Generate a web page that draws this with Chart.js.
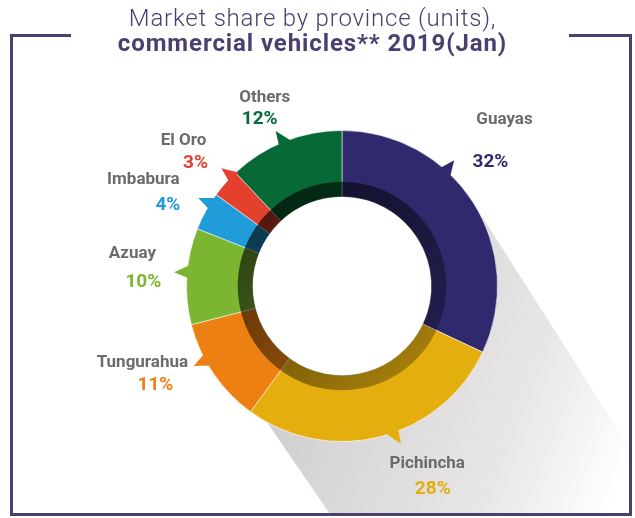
<!DOCTYPE html>
<html>
<head>
<meta charset="utf-8">
<script src="https://cdn.jsdelivr.net/npm/chart.js@4.4.0/dist/chart.umd.min.js"></script>
<style>
  html, body { margin: 0; padding: 0; background: #fff; }
  #wrap { position: relative; width: 635px; height: 518px; overflow: hidden; }
  canvas { position: absolute; left: 0; top: 0; }
  #frame { position: absolute; left: 10px; top: 34px; width: 616px; height: 479px;
           border: 3px solid #4b3f70; border-top: none; }
  .tick { position: absolute; top: 34px; height: 3px; background: #4b3f70; }
  .ttl { position: absolute; left: -5px; width: 635px; text-align: center; color: #4a3f6f;
         font-family: Roboto, sans-serif; font-size: 24px; line-height: 24px; white-space: nowrap; }
  #t1 { top: 6px; font-weight: 300; letter-spacing: 0.8px; }
  #t2 { top: 31px; font-weight: 700; letter-spacing: 0.9px; }
</style>
</head>
<body>
<div id="wrap">
  <canvas id="chart" width="635" height="518"></canvas>
  <div id="frame"></div>
  <div class="tick" style="left:10px;width:61px"></div>
  <div class="tick" style="left:569px;width:63px"></div>
  <div class="ttl" id="t1">Market share by province (units),</div>
  <div class="ttl" id="t2">commercial vehicles** 2019(Jan)</div>
</div>
<script>
// data
var provinces = ["Guayas", "Pichincha", "Tungurahua", "Azuay", "Imbabura", "El Oro", "Others"];
var shares = [32, 28, 11, 10, 4, 3, 12];

// styles
var sliceColors = ["#2f2a6e", "#e4ae0f", "#ed8012", "#7cb532", "#209cd8", "#e4402e", "#076935"];
// pointer: [position along slice, skew of the tip]
var pointers = [[0.345, 0.4], [0.43, 0.2], [0.576, 0.57], [0.48, 0.36], [0.58, 0.3], [0.62, 0.32], [0.44, 0.2]];
// label offsets from the centre: name x, name y, value x, value y
var labelOffsets = [
	[162, -167, 148, -125],
	[85, 175.5, 90.5, 201],
	[-199, 75, -186, 97],
	[-209, -34, -198, -6],
	[-198, -108, -173.5, -83],
	[-158, -147, -146, -124],
	[-77, -189.5, -82, -168.5]
];

function arcGeom(chart) {
	var meta = chart.getDatasetMeta(0);
	return meta.data.map(function (a) {
		return a.getProps(["x", "y", "startAngle", "endAngle", "outerRadius", "innerRadius"], true);
	});
}

// long soft shadow towards the bottom right
var shadowPlugin = {
	id: "longShadow",
	beforeDatasetsDraw: function (chart) {
		var g = arcGeom(chart)[0];
		var ctx = chart.ctx;
		var R = g.outerRadius, cx = g.x, cy = g.y;
		var pR = 57.5 * Math.PI / 180, pL = 55.5 * Math.PI / 180;
		var L = 700, k = 0.894 * R;
		ctx.save();
		ctx.beginPath();
		ctx.rect(13, 37, 616, 476);
		ctx.clip();
		var rx = cx + R * Math.sin(pR), ry = cy - R * Math.cos(pR);
		var lx = cx - k * Math.sin(pL), ly = cy + k * Math.cos(pL);
		ctx.beginPath();
		ctx.moveTo(rx, ry);
		ctx.lineTo(rx + L * Math.cos(pR), ry + L * Math.sin(pR));
		ctx.lineTo(lx + L * Math.cos(pL), ly + L * Math.sin(pL));
		ctx.lineTo(lx, ly);
		ctx.lineTo(cx, cy);
		ctx.closePath();
		var ux = 0.93, uy = 0.37, len = 2.13 * R;
		var grad = ctx.createLinearGradient(cx, cy, cx + len * ux, cy + len * uy);
		grad.addColorStop(0, "rgba(90,80,80,0.27)");
		grad.addColorStop(0.145, "rgba(90,80,80,0.24)");
		grad.addColorStop(0.63, "rgba(90,80,80,0.14)");
		grad.addColorStop(0.915, "rgba(90,80,80,0.03)");
		grad.addColorStop(1, "rgba(90,80,80,0)");
		ctx.fillStyle = grad;
		ctx.fill();
		// keep the hole white
		ctx.beginPath();
		ctx.arc(cx, cy, R, 0, Math.PI * 2);
		ctx.fillStyle = "#ffffff";
		ctx.fill();
		ctx.restore();
	}
};

// pointers, dark inner band and labels
var decorPlugin = {
	id: "decor",
	afterDatasetsDraw: function (chart) {
		var ctx = chart.ctx;
		var arcs = arcGeom(chart);
		var cx = arcs[0].x, cy = arcs[0].y, R = arcs[0].outerRadius, r0 = arcs[0].innerRadius;
		ctx.save();

		arcs.forEach(function (a, i) {
			var a0 = a.startAngle + (a.endAngle - a.startAngle) * pointers[i][0];
			var dA = 5 * Math.PI / 180;
			var a1 = a0 + dA, tip = a0 + dA * pointers[i][1];
			ctx.beginPath();
			ctx.moveTo(cx + (R - 2) * Math.cos(a0), cy + (R - 2) * Math.sin(a0));
			ctx.lineTo(cx + (R + 13) * Math.cos(tip), cy + (R + 13) * Math.sin(tip));
			ctx.lineTo(cx + (R - 2) * Math.cos(a1), cy + (R - 2) * Math.sin(a1));
			ctx.closePath();
			ctx.fillStyle = sliceColors[i];
			ctx.fill();
		});

		var band = 0.097 * R;
		var d = 0.7 * R;
		var grad = ctx.createLinearGradient(cx - d, cy - d, cx + d, cy + d);
		grad.addColorStop(0, "rgba(0,0,0,0.72)");
		grad.addColorStop(1, "rgba(0,0,0,0.2)");
		ctx.beginPath();
		ctx.arc(cx, cy, r0 + band, 0, Math.PI * 2);
		ctx.arc(cx, cy, r0, 0, Math.PI * 2, true);
		ctx.fillStyle = grad;
		ctx.fill();

		var s = R / 155;
		ctx.textAlign = "center";
		ctx.textBaseline = "alphabetic";
		provinces.forEach(function (name, i) {
			var o = labelOffsets[i];
			ctx.font = "bold 17px Roboto";
			ctx.fillStyle = "#6b6b6b";
			ctx.fillText(name, cx + o[0] * s, cy + o[1] * s + 6);
			ctx.font = "bold 19px Roboto";
			ctx.fillStyle = sliceColors[i];
			ctx.fillText(shares[i] + "%", cx + o[2] * s, cy + o[3] * s + 6.8);
		});
		ctx.restore();
	}
};

var chart = new Chart(document.getElementById("chart"), {
	type: "doughnut",
	data: {
		labels: provinces,
		datasets: [{
			data: shares,
			backgroundColor: sliceColors,
			borderColor: "rgba(255,255,255,0.55)",
			borderWidth: 1
		}]
	},
	options: {
		responsive: false,
		animation: false,
		events: [],
		cutout: "57.4%",
		layout: { padding: { left: 186, right: 137, top: 130, bottom: 76 } },
		plugins: {
			legend: { display: false },
			tooltip: { enabled: false },
			title: { display: false }
		}
	},
	plugins: [shadowPlugin, decorPlugin]
});
</script>
</body>
</html>
